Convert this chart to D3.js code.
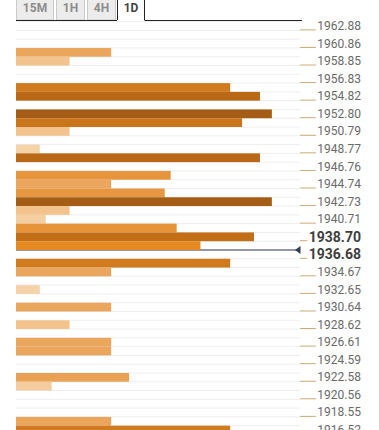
<!DOCTYPE html>
<html><head><meta charset="utf-8">
<script src="https://cdn.jsdelivr.net/npm/d3@7"></script>
<style>
html,body{margin:0;padding:0;background:#fff;}
svg{display:block;font-family:Roboto,"Noto Sans",sans-serif;}
</style></head>
<body>
<svg id="chart" width="379" height="430"></svg>
<script>
const tabs = ["15M", "1H", "4H", "1D"];
const activeTab = "1D";
const tickLabels = ["1962.88","1960.86","1958.85","1956.83","1954.82","1952.80","1950.79","1948.77",
  "1946.76","1944.74","1942.73","1940.71","1938.70","1936.68","1934.67","1932.65","1930.64",
  "1928.62","1926.61","1924.59","1922.58","1920.56","1918.55","1916.52"];
const boldLabels = ["1938.70", "1936.68"];
// confluence strength per price row, top (highest price) to bottom
const strengths = [0,0,0,16,9,0,0,36,41,0,43,38,9,0,4,41,0,26,16,25,43,9,5,27,40,31,0,36,16,0,4,0,16,0,9,0,16,16,0,0,19,6,0,0,0,16,36];
const currentPrice = 1937.18;

const svg = d3.select("#chart");
const rowH = 8.784, top0 = 21.6;
const rows = d3.range(strengths.length);
const y = d3.scaleBand().domain(rows).range([top0, top0 + rows.length * rowH]).padding(0);
const bw = y.bandwidth();
const x = d3.scaleLinear().domain([0, 48]).range([16, 301.6]);
const yPrice = d3.scaleLinear()
  .domain([+tickLabels[0], +tickLabels[tickLabels.length - 1]])
  .range([y(0) + bw / 2, y(rows.length - 1) + bw / 2]);
const color = d3.scaleLinear()
  .domain([4, 9, 16, 27, 31, 36, 40, 43])
  .range(["#f5d2a8", "#f2c38c", "#eba65e", "#e6933a", "#e58a22", "#d17b1e", "#c26e17", "#a55d15"])
  .clamp(true);

// gridlines
svg.append("g").selectAll("line").data(d3.range(rows.length + 1)).join("line")
  .attr("x1", 16).attr("x2", 300)
  .attr("y1", d => top0 + d * rowH).attr("y2", d => top0 + d * rowH)
  .attr("stroke", "#eceef3").attr("stroke-width", 1);

// current price line (under bars)
const py = yPrice(currentPrice);
svg.append("line").attr("x1", 16).attr("x2", 296).attr("y1", py).attr("y2", py)
  .attr("stroke", "#2d3b55").attr("stroke-width", 1);
svg.append("path")
  .attr("d", `M295,${py} L300.5,${py - 4} L300.5,${py + 4} Z`)
  .attr("fill", "#2d3b55");

// bars
svg.append("g").selectAll("rect").data(rows.filter(i => strengths[i] > 0)).join("rect")
  .attr("x", x(0)).attr("y", i => y(i))
  .attr("width", i => x(strengths[i]) - x(0)).attr("height", bw)
  .attr("fill", i => color(strengths[i]));

// labels
const lg = svg.append("g");
tickLabels.forEach((lab, k) => {
  const r = k * 2;
  const cy = y(r) + bw / 2;
  const bold = boldLabels.includes(lab);
  const t = lg.append("text").attr("x", 361).attr("y", cy)
    .attr("text-anchor", "end").attr("dominant-baseline", "central")
    .attr("font-size", bold ? 14 : 12).attr("font-weight", bold ? 700 : 400)
    .attr("fill", bold ? "#3e3e3e" : "#6a6a6a").text(lab);
  const w = t.node().getComputedTextLength();
  const yb = y(r) + bw - 0.5;
  lg.append("line").attr("x1", 300).attr("x2", 361 - w - 1.5)
    .attr("y1", yb).attr("y2", yb).attr("stroke", "#cfa872").attr("stroke-width", 1);
});

// tabs
const tabX = {"15M": [16, 54], "1H": [56, 85], "4H": [87, 116], "1D": [117, 145]};
const tg = svg.append("g");
tabs.forEach(tb => {
  const [a, b] = tabX[tb];
  const act = tb === activeTab;
  if (act) {
    tg.append("rect").attr("x", a).attr("y", -2).attr("width", b - a).attr("height", 22).attr("fill", "#fff");
    tg.append("path").attr("d", `M${a + 0.5},20 V-2 M${b - 0.5},20 V-2`).attr("stroke", "#222").attr("fill", "none");
  } else {
    tg.append("rect").attr("x", a + 0.5).attr("y", -2).attr("width", b - a - 1).attr("height", 22)
      .attr("fill", "#ececec").attr("stroke", "#c9c9c9");
  }
  tg.append("text").attr("x", (a + b) / 2).attr("y", 8).attr("text-anchor", "middle")
    .attr("dominant-baseline", "central").attr("font-size", 12).attr("font-weight", 700)
    .attr("fill", act ? "#444" : "#8c8c8c").text(tb);
});
tg.append("line").attr("x1", 16).attr("x2", 117).attr("y1", 20.5).attr("y2", 20.5).attr("stroke", "#222");
tg.append("line").attr("x1", 144.5).attr("x2", 302).attr("y1", 20.5).attr("y2", 20.5).attr("stroke", "#222");
</script>
</body></html>
